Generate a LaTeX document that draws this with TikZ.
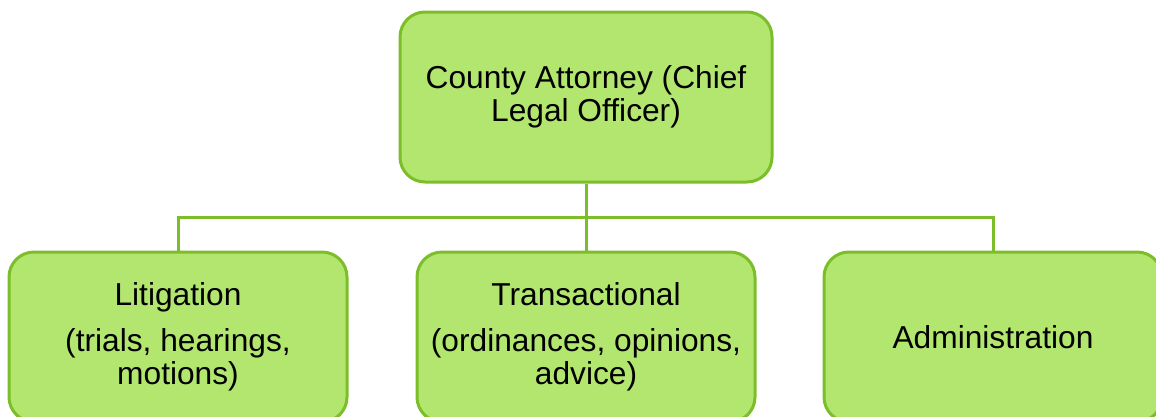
\documentclass[tikz,border=0pt]{standalone}
\usepackage{fontspec}
\setmainfont{Liberation Sans}
\definecolor{boxfill}{RGB}{178,230,110}
\definecolor{boxline}{RGB}{124,190,42}
\begin{document}
\begin{tikzpicture}[x=1pt,y=-1pt,
  orgbox/.style={draw=boxline, fill=boxfill, line width=3pt, rounded corners=25pt,
    align=center, font=\fontsize{31.7}{33}\selectfont, inner sep=0pt},
  link/.style={draw=boxline, line width=3pt}]
\clip (0,0) rectangle (1156,416);
\useasboundingbox (0,0) rectangle (1156,416);
\node[orgbox, minimum width=372pt, minimum height=170pt] (top) at (586,97)
  {County Attorney (Chief\\Legal Officer)};
\node[orgbox, minimum width=338pt, minimum height=170pt] (lit) at (178,337)
  {Litigation\\[13pt](trials, hearings,\\motions)};
\node[orgbox, minimum width=338pt, minimum height=170pt] (tra) at (586,337)
  {Transactional\\[13pt](ordinances, opinions,\\advice)};
\node[orgbox, minimum width=338pt, minimum height=170pt] (adm) at (993,337)
  {Administration};
\coordinate (bus) at (586,217);
\draw[link] (top.south) -- (bus);
\draw[link] (lit.north) |- (bus) -| (adm.north);
\draw[link] (bus) -- (tra.north);
\end{tikzpicture}
\end{document}
